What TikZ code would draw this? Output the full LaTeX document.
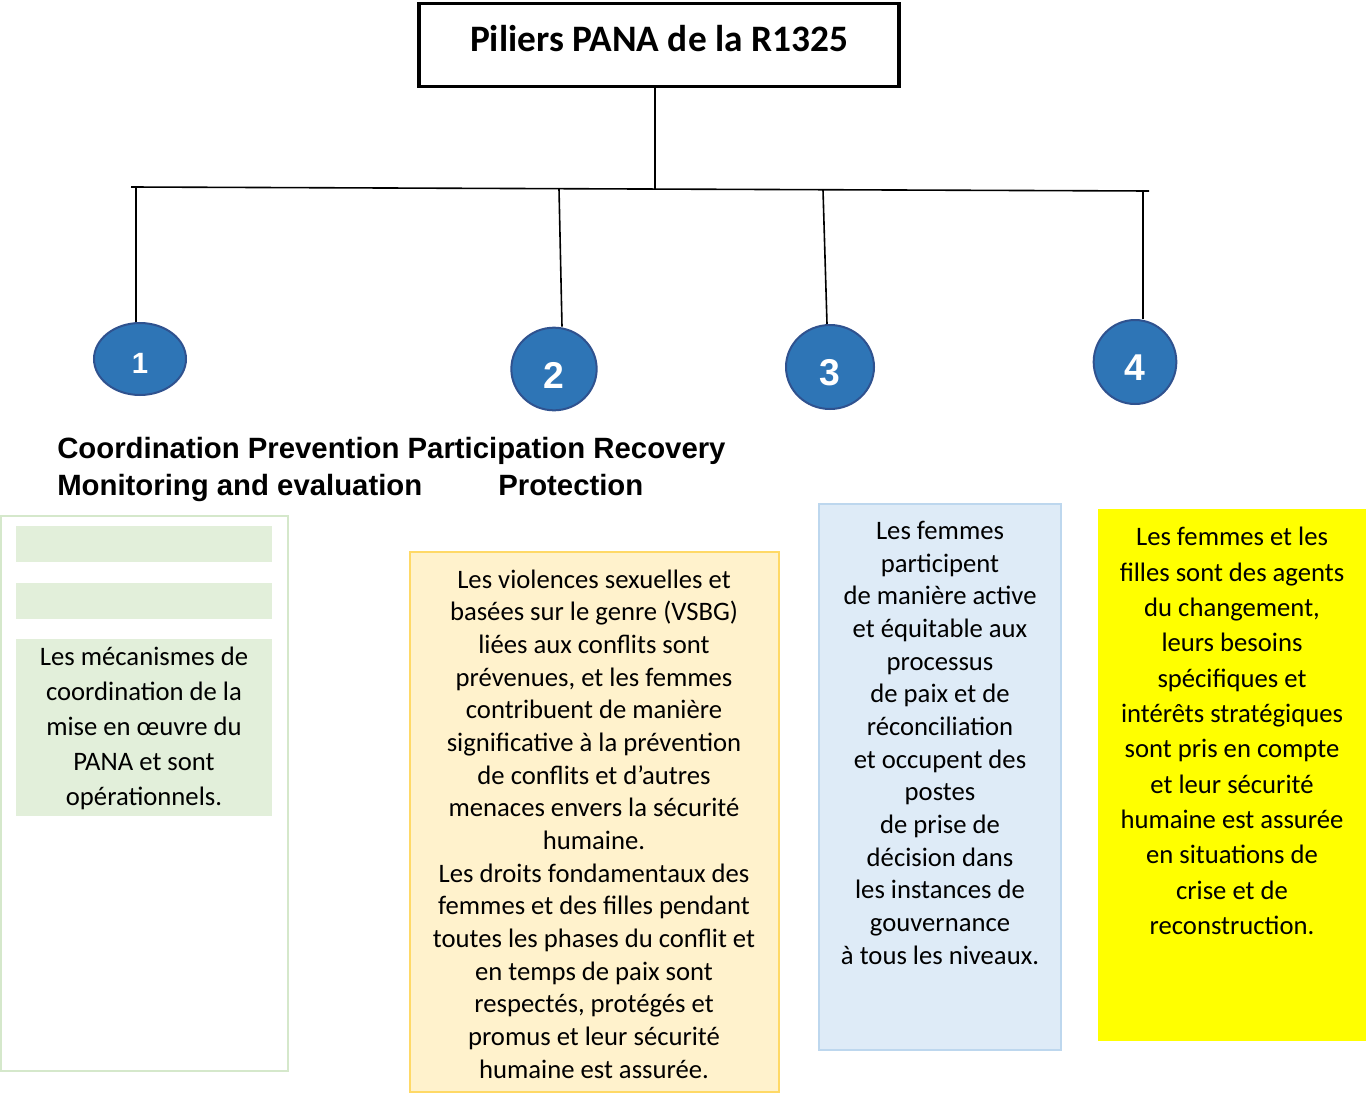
\documentclass[tikz,border=0pt]{standalone}
\usepackage{fontspec}
\setmainfont{Carlito}
\newfontfamily\headfont{Liberation Sans}
\usetikzlibrary{shapes.geometric, positioning}

\definecolor{pilierblue}{HTML}{2E75B6}
\definecolor{pilierrim}{HTML}{2F528F}
\definecolor{greenfill}{HTML}{E2EFDA}
\definecolor{greenrim}{HTML}{D5E8CB}
\definecolor{orangefill}{HTML}{FFF2CC}
\definecolor{orangerim}{HTML}{FFD966}
\definecolor{bluefill}{HTML}{DEEBF7}
\definecolor{bluerim}{HTML}{BDD7EE}
\definecolor{yellowfill}{HTML}{FFFF00}

\tikzset{
  pilier/.style={ellipse, draw=pilierrim, line width=1.5pt, fill=pilierblue, inner sep=0pt},
  numtext/.style={text=white, yshift=-4.5pt, font=\headfont\bfseries\fontsize{28}{28}\selectfont},
  heading/.style={anchor=base west, inner sep=0pt, font=\headfont\bfseries\fontsize{22}{24}\selectfont},
  boxtext/.style={align=center, inner sep=0pt, font=\fontsize{20}{24.5}\selectfont},
  link/.style={line width=1.2pt}
}

\begin{document}
\begin{tikzpicture}[x=0.75pt, y=-0.75pt]
\useasboundingbox (0,0) rectangle (1366,1095);
% title
\node [draw, line width=2.4pt, minimum width=360pt, minimum height=62pt, font=\bfseries\fontsize{28}{28}\selectfont] (titre) at (659,45) {\raisebox{9.5pt}{Piliers PANA de la R1325}};
% bar
\coordinate (barL) at (131,187);
\coordinate (barR) at (1149,191);
\coordinate (barM) at (655,189);
\coordinate (b1) at (136,188);
\coordinate (b2) at (559,189);
\coordinate (b3) at (823,190);
\coordinate (b4) at (1143,191);
\draw [link] (titre.south -| barM) -- (barM);
\draw [link] (barL) -- (barR);
% pillars
\node [pilier, minimum width=69pt, minimum height=54pt, label={[numtext, font=\headfont\bfseries\fontsize{22}{22}\selectfont, yshift=1pt]center:1}] (p1) at (140,359) {};
\node [pilier, minimum width=64pt, minimum height=62pt, label={[numtext]center:2}] (p2) at (554,369) {};
\node [pilier, minimum width=66pt, minimum height=63pt, label={[numtext]center:3}] (p3) at (830,367) {};
\node [pilier, minimum width=62pt, minimum height=63pt, label={[numtext]center:4}] (p4) at (1135,362) {};
\draw [link] (b1) -- (p1.north -| b1);
\draw [link] (b2) -- ([xshift=6pt]p2.north);
\draw [link] (b3) -- ([xshift=-2.25pt]p3.north);
\draw [link] (b4) -- (p4.north -| b4);
% headings
\node [heading] (h1) at (57,458) {Coordination Prevention Participation Recovery};
\node [heading] (h2) at (57,495) {Monitoring and evaluation};
\node [heading] (h3) at (498,495) {Protection};
% box 1
\draw [greenrim, line width=1.2pt] (1,516) rectangle (288,1071);
\fill [greenfill] (16,526) rectangle (272,562);
\fill [greenfill] (16,583) rectangle (272,619);
\fill [greenfill] (16,639) rectangle (272,816);
\node [boxtext, font=\fontsize{20}{26.25}\selectfont] (t1) at (144,728) {Les mécanismes de\\coordination de la\\mise en œuvre du\\PANA et sont\\opérationnels.};
% box 2
\draw [orangerim, fill=orangefill, line width=1.5pt] (410,552) rectangle (779,1092);
\node [boxtext] (t2) at (594,824) {Les violences sexuelles et\\basées sur le genre (VSBG)\\liées aux conflits sont\\prévenues, et les femmes\\contribuent de manière\\significative à la prévention\\de conflits et d’autres\\menaces envers la sécurité\\humaine.\\Les droits fondamentaux des\\femmes et des filles pendant\\toutes les phases du conflit et\\en temps de paix sont\\respectés, protégés et\\promus et leur sécurité\\humaine est assurée.};
% box 3
\draw [bluerim, fill=bluefill, line width=1.5pt] (819,504) rectangle (1061,1050);
\node [boxtext, anchor=north] (t3) at (940,521) {Les femmes\\participent\\de manière active\\et équitable aux\\processus\\de paix et de\\réconciliation\\et occupent des\\postes\\de prise de\\décision dans\\les instances de\\gouvernance\\à tous les niveaux.};
% box 4
\fill [yellowfill] (1098,509) rectangle (1366,1041);
\node [boxtext, anchor=north, font=\fontsize{20}{26.5}\selectfont] (t4) at (1232,527) {Les femmes et les\\filles sont des agents\\du changement,\\leurs besoins\\spécifiques et\\intérêts stratégiques\\sont pris en compte\\et leur sécurité\\humaine est assurée\\en situations de\\crise et de\\reconstruction.};
\end{tikzpicture}
\end{document}
